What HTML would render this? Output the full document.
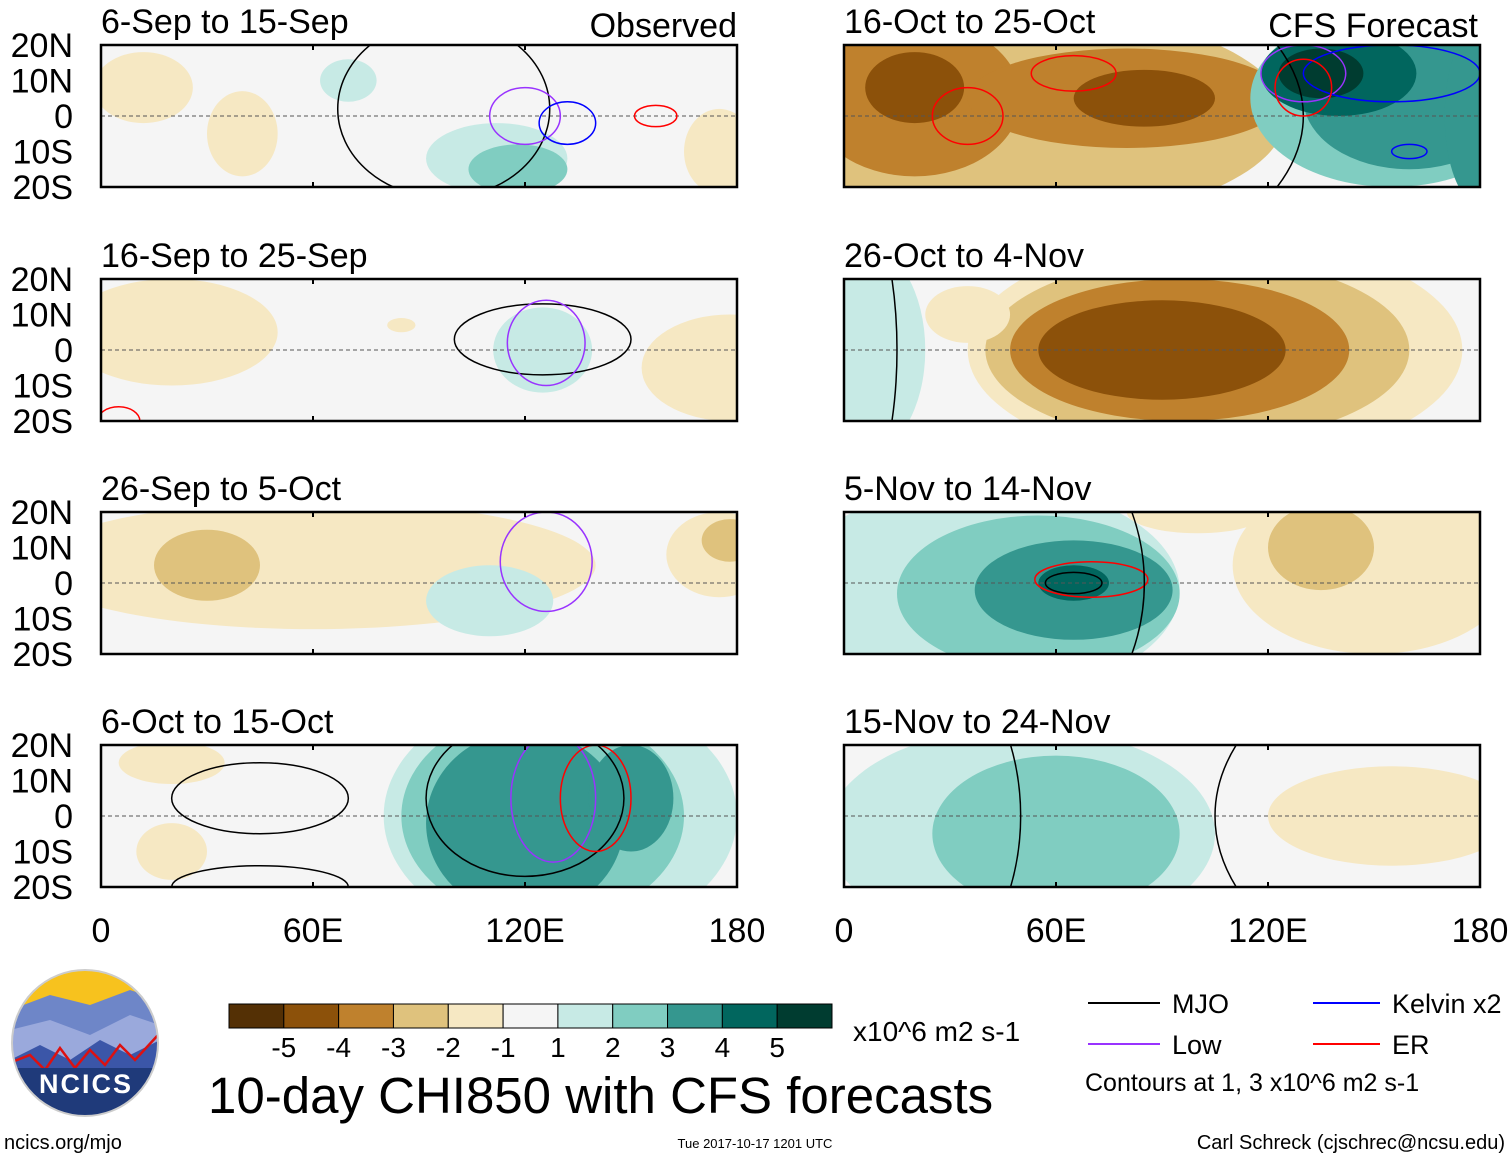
<!DOCTYPE html>
<html><head><meta charset="utf-8"><style>
body{margin:0;background:#fff;width:1510px;height:1159px;overflow:hidden;font-family:"Liberation Sans",sans-serif}
svg text{font-family:"Liberation Sans",sans-serif}
</style></head><body>
<svg id="fig" width="1510" height="1159" viewBox="0 0 1510 1159" xmlns="http://www.w3.org/2000/svg">
<g id="panels"></g>
<g id="legend"></g>
</svg>
<script>
const colors=['#543005','#8c510a','#bf812d','#dfc27d','#f6e8c3','#f5f5f5','#c7eae5','#80cdc1','#35978f','#01665e','#003c30'];
const cbLabels=['-5','-4','-3','-2','-1','1','2','3','4','5'];
const latTicks=[20,10,0,-10,-20];
const latLabels=['20N','10N','0','10S','20S'];
const lonTicks=[0,60,120,180];
const lonLabels=['0','60E','120E','180'];
const titles=['6-Sep to 15-Sep','16-Oct to 25-Oct','16-Sep to 25-Sep','26-Oct to 4-Nov','26-Sep to 5-Oct','5-Nov to 14-Nov','6-Oct to 15-Oct','15-Nov to 24-Nov'];
// blobs: [lon, lat, halfWidthLon, halfHeightLat, level]
const blobs=[
 [[12,8,14,10,-1],[40,-5,10,12,-1],[70,10,8,6,1],[112,-12,20,10,1],[118,-15,14,7,2],[175,-10,10,12,-1]],
 [[50,0,75,30,-2],[20,5,30,22,-3],[20,8,14,10,-4],[80,5,45,14,-3],[85,5,20,8,-4],[155,5,40,25,2],[160,5,30,20,3],[140,12,22,12,4],[135,12,12,7,5],[180,0,10,25,3]],
 [[20,5,30,15,-1],[125,0,14,12,1],[178,-5,25,15,-1],[85,7,4,2,-1]],
 [[5,0,18,30,1],[105,0,70,32,-1],[100,0,60,26,-2],[95,0,48,20,-3],[90,0,35,14,-4],[35,10,12,8,-1]],
 [[60,5,80,18,-1],[30,5,15,10,-2],[110,-5,18,10,1],[175,8,15,12,-1],[178,12,8,6,-2]],
 [[40,-2,55,30,1],[55,-3,40,22,2],[65,-2,28,14,3],[65,0,10,5,4],[150,5,40,25,-1],[135,10,15,12,-2],[100,20,20,6,-1]],
 [[130,0,50,35,1],[125,0,40,30,2],[120,-2,28,26,3],[150,5,12,15,3],[20,15,15,6,-1],[20,-10,10,8,-1]],
 [[50,-5,55,30,1],[60,-5,35,22,2],[155,0,35,14,-1]]
];
// contours: [lon, lat, halfWidthLon, halfHeightLat, color]
const contours=[
 [[97,2,30,25,'#000'],[120,0,10,8,'#9933ff'],[132,-2,8,6,'#0000ff'],[157,0,6,3,'#ff0000']],
 [[0,0,130,60,'#000'],[130,12,12,8,'#9933ff'],[155,12,25,8,'#0000ff'],[35,0,10,8,'#ff0000'],[65,12,12,5,'#ff0000'],[130,8,8,8,'#ff0000'],[160,-10,5,2,'#0000ff']],
 [[125,3,25,10,'#000'],[126,2,11,12,'#9933ff'],[5,-20,6,4,'#ff0000']],
 [[-10,0,25,60,'#000']],
 [[126,6,13,14,'#9933ff']],
 [[65,0,8,3,'#000'],[70,1,16,5,'#ff0000'],[0,0,85,70,'#000']],
 [[45,5,25,10,'#000'],[120,5,28,22,'#000'],[128,5,12,18,'#9933ff'],[140,5,10,15,'#ff0000'],[45,-20,25,6,'#000']],
 [[0,0,50,60,'#000'],[210,0,105,60,'#000']]
];
const NS='http://www.w3.org/2000/svg';
function el(tag,attrs,parent){const e=document.createElementNS(NS,tag);for(const k in attrs)e.setAttribute(k,attrs[k]);parent.appendChild(e);return e;}
const PW=636,PH=142;
const colX=[101,844],rowY=[45,279,512,745];
const root=document.getElementById('panels');
for(let p=0;p<8;p++){
 const x0=colX[p%2],y0=rowY[Math.floor(p/2)];
 const X=lon=>x0+lon/180*PW, Y=lat=>y0+(20-lat)/40*PH;
 const g=el('g',{},root);
 
 
 const cp=el('clipPath',{id:'c'+p},g);
 el('rect',{x:x0,y:y0,width:PW,height:PH},cp);
 const inner=el('g',{'clip-path':'url(#c'+p+')'},g);
 el('rect',{x:x0,y:y0,width:PW,height:PH,fill:colors[5]},inner);
 blobs[p].forEach(b=>{const e=el('ellipse',{cx:X(b[0]),cy:Y(b[1]),rx:b[2]/180*PW,ry:b[3]/40*PH,fill:colors[5+b[4]]},inner);
  });
 el('line',{x1:x0,x2:x0+PW,y1:Y(0),y2:Y(0),stroke:'#555','stroke-dasharray':'4 3','stroke-width':1},inner);
 contours[p].forEach(c=>{const e=el('ellipse',{cx:X(c[0]),cy:Y(c[1]),rx:c[2]/180*PW,ry:c[3]/40*PH,fill:'none',stroke:c[4],'stroke-width':1.5},inner);
  });
 el('rect',{x:x0,y:y0,width:PW,height:PH,fill:'none',stroke:'#000','stroke-width':2.5},g);
 lonTicks.forEach(l=>{el('line',{x1:X(l),x2:X(l),y1:y0,y2:y0+5,stroke:'#000','stroke-width':2},g);el('line',{x1:X(l),x2:X(l),y1:y0+PH,y2:y0+PH-5,stroke:'#000','stroke-width':2},g);});
 const t=el('text',{x:x0,y:y0-12,'font-size':34},g);t.textContent=titles[p];
 
 if(p%2==0){latTicks.forEach((l,i)=>{const tt=el('text',{x:73,y:Y(l)+12,'font-size':34,'text-anchor':'end'},g);tt.textContent=latLabels[i];
   });}
 if(p==0){const o=el('text',{x:737,y:37,'font-size':34,'text-anchor':'end'},g);o.textContent='Observed';}
 if(p==1){const o=el('text',{x:1478,y:37,'font-size':34,'text-anchor':'end'},g);o.textContent='CFS Forecast';}
 if(p>=6){lonTicks.forEach((l,i)=>{const tt=el('text',{x:X(l),y:942,'font-size':34,'text-anchor':'middle'},g);tt.textContent=lonLabels[i];
   });}
}
const lg=document.getElementById('legend');
const cbX=229,cbW=603/11;
colors.forEach((c,i)=>{const r=el('rect',{x:cbX+i*cbW,y:1004,width:cbW,height:24,fill:c,stroke:'#000','stroke-width':1},lg);
 });
cbLabels.forEach((s,i)=>{const t=el('text',{x:cbX+(i+1)*cbW,y:1057,'font-size':28,'text-anchor':'middle'},lg);t.textContent=s;
 });
</script>
<svg style="position:absolute;left:0;top:0" width="1510" height="1159">
<g>
<clipPath id="lc"><circle cx="85" cy="1043" r="73"/></clipPath>
<g clip-path="url(#lc)">
<rect x="10" y="968" width="150" height="150" fill="#f7c21e"/>
<path d="M10 1010 L50 995 L90 1005 L130 990 L160 1000 L160 1120 L10 1120Z" fill="#6e86c8"/>
<path d="M10 1030 L50 1020 L90 1035 L130 1015 L160 1025 L160 1120 L10 1120Z" fill="#9aa9dc"/>
<path d="M10 1060 L40 1045 L70 1060 L100 1040 L130 1055 L160 1040 L160 1120 L10 1120Z" fill="#3b56a8"/>
<polyline points="12,1062 30,1055 45,1070 60,1048 75,1068 90,1050 105,1065 120,1045 135,1060 158,1035" fill="none" stroke="#d11" stroke-width="2.5"/>
<rect x="10" y="1068" width="150" height="50" fill="#1f3a7a"/>
</g>
<circle cx="85" cy="1043" r="73" fill="none" stroke="#ccc" stroke-width="2"/>
<text x="86" y="1093" font-size="27" font-weight="bold" fill="#fff" text-anchor="middle" letter-spacing="2">NCICS</text>
</g>
<text x="853" y="1041" font-size="28">x10^6 m2 s-1</text>
<text x="208" y="1113" font-size="51">10-day CHI850 with CFS forecasts</text>
<g>
<line x1="1088" x2="1160" y1="1003" y2="1003" stroke="#000" stroke-width="2"/><text x="1172" y="1013" font-size="27">MJO</text>
<line x1="1088" x2="1160" y1="1044" y2="1044" stroke="#9933ff" stroke-width="2"/><text x="1172" y="1054" font-size="27">Low</text>
<line x1="1313" x2="1380" y1="1003" y2="1003" stroke="#0000ff" stroke-width="2"/><text x="1392" y="1013" font-size="27">Kelvin x2</text>
<line x1="1313" x2="1380" y1="1044" y2="1044" stroke="#ff0000" stroke-width="2"/><text x="1392" y="1054" font-size="27">ER</text>
<text x="1085" y="1091" font-size="25">Contours at 1, 3 x10^6 m2 s-1</text>
</g>
<text x="4" y="1149" font-size="20">ncics.org/mjo</text>
<text x="755" y="1148" font-size="13" text-anchor="middle">Tue 2017-10-17 1201 UTC</text>
<text x="1505" y="1149" font-size="20" text-anchor="end">Carl Schreck (cjschrec@ncsu.edu)</text>
</svg>
</body></html>
